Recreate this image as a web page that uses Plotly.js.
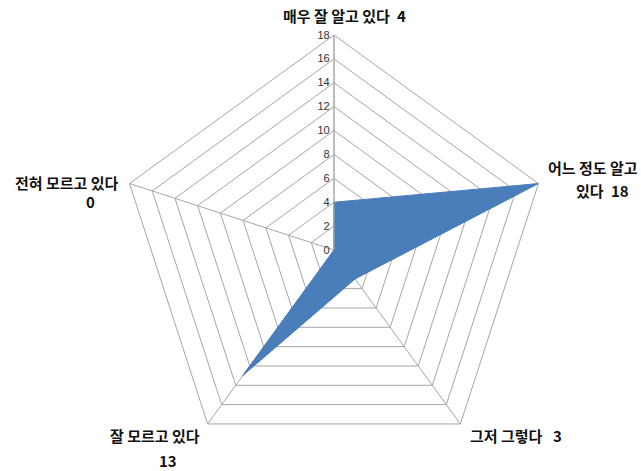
<!DOCTYPE html>
<html>
<head>
<meta charset="utf-8">
<script src="https://cdn.plot.ly/plotly-3.0.1.min.js"></script>
<style>body{margin:0;} #graph{width:641px;height:471px;}</style>
</head>
<body>
<div id="graph"></div>
<script>
var categories = ["매우 잘 알고 있다", "어느 정도 알고 있다", "그저 그렇다", "잘 모르고 있다", "전혀 모르고 있다"];
var values = [4, 18, 3, 13, 0];
var radialTicks = [0, 2, 4, 6, 8, 10, 12, 14, 16, 18];

// category names broken into the lines shown on the chart
var nameLines = [["매우 잘 알고 있다"], ["어느 정도 알고", "있다"], ["그저 그렇다"], ["잘 모르고 있다"], ["전혀 모르고 있다"]];
// where each name line and each value sits (pixels from top-left)
var namePos = [[[336, 16]], [[593, 168], [590, 190]], [[506, 435]], [[155, 435]], [[67, 182]]];
var valuePos = [[402, 16], [620, 190], [557, 435], [168, 460], [90, 201]];

var grid = "#a6a6a6";
var font = "Noto Sans CJK KR, sans-serif";

var trace = {
  type: "scatterpolar",
  r: values.concat([values[0]]),
  theta: categories.concat([categories[0]]),
  fill: "toself",
  fillcolor: "#4a7ebb",
  line: {color: "#4a7ebb", width: 1},
  mode: "lines",
  hoverinfo: "r+theta"
};

function note(x, y, text) {
  return {
    xref: "paper", yref: "paper",
    x: x / 641, y: 1 - y / 471,
    xanchor: "center", yanchor: "middle",
    text: text,
    showarrow: false,
    font: {family: font, size: 15, color: "#111", weight: "bold"}
  };
}

var annotations = [];
categories.forEach(function(c, i) {
  nameLines[i].forEach(function(line, j) {
    annotations.push(note(namePos[i][j][0], namePos[i][j][1], line));
  });
  annotations.push(note(valuePos[i][0], valuePos[i][1], String(values[i])));
});

var layout = {
  width: 641, height: 471,
  margin: {l: 0, r: 0, t: 0, b: 0},
  paper_bgcolor: "#fff",
  showlegend: false,
  polar: {
    domain: {x: [119 / 641, 549 / 641], y: [1 - 465 / 471, 1 - 35 / 471]},
    gridshape: "linear",
    bgcolor: "rgba(0,0,0,0)",
    radialaxis: {
      range: [0, 18],
      tickvals: radialTicks,
      angle: 90,
      tickangle: 90,
      side: "counterclockwise",
      showline: true,
      linecolor: grid,
      linewidth: 1,
      gridcolor: grid,
      gridwidth: 1,
      ticks: "",
      tickfont: {family: "Liberation Sans, Arial, sans-serif", size: 11, color: "#333"}
    },
    angularaxis: {
      type: "category",
      categoryarray: categories,
      rotation: 90,
      direction: "clockwise",
      showticklabels: false,
      ticks: "",
      showline: true,
      linecolor: grid,
      linewidth: 1,
      gridcolor: grid,
      gridwidth: 1
    }
  },
  annotations: annotations
};

Plotly.newPlot("graph", [trace], layout, {displayModeBar: false});
</script>
</body>
</html>
